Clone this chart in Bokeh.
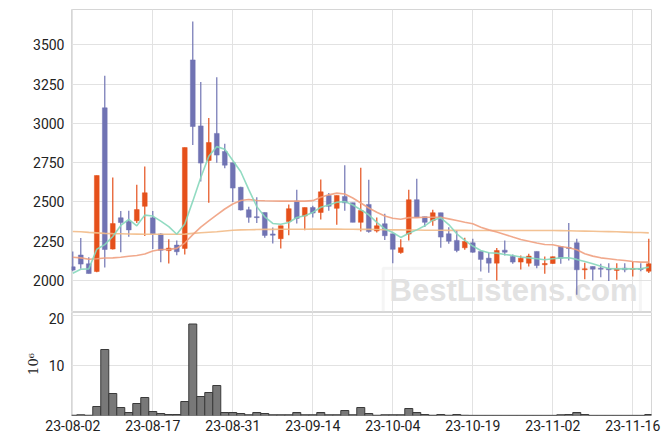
from bokeh.plotting import figure
from bokeh.models import FixedTicker, Range1d, Label, BoxAnnotation, ColumnDataSource
from bokeh.layouts import column
from bokeh.embed import file_html
from bokeh.resources import INLINE

# ---- data ----
dates = [
    "23-08-02", "23-08-03", "23-08-04", "23-08-07", "23-08-08", "23-08-09", "23-08-10",
    "23-08-11", "23-08-14", "23-08-16", "23-08-17", "23-08-18", "23-08-21", "23-08-22",
    "23-08-23", "23-08-24", "23-08-25", "23-08-28", "23-08-29", "23-08-30", "23-08-31",
    "23-09-01", "23-09-04", "23-09-05", "23-09-06", "23-09-07", "23-09-08", "23-09-11",
    "23-09-12", "23-09-13", "23-09-14", "23-09-15", "23-09-18", "23-09-19", "23-09-20",
    "23-09-21", "23-09-22", "23-09-25", "23-09-26", "23-09-27", "23-10-04", "23-10-05",
    "23-10-06", "23-10-10", "23-10-11", "23-10-12", "23-10-13", "23-10-16", "23-10-17",
    "23-10-18", "23-10-19", "23-10-20", "23-10-23", "23-10-24", "23-10-25", "23-10-26",
    "23-10-27", "23-10-30", "23-10-31", "23-11-01", "23-11-02", "23-11-03", "23-11-06",
    "23-11-07", "23-11-08", "23-11-09", "23-11-10", "23-11-13", "23-11-14", "23-11-15",
    "23-11-16", "23-11-17", "23-11-20",
]
opens = [2087, 2162, 2106, 2057, 3099, 2200, 2399, 2375, 2380, 2472,
         2399, 2296, 2190, 2225, 2204, 3404, 2984, 2764, 2936, 2821,
         2750, 2593, 2450, 2406, 2432, 2296, 2266, 2375, 2506, 2410,
         2464, 2433, 2541, 2459, 2534, 2495, 2370, 2484, 2315, 2361,
         2297, 2178, 2295, 2514, 2406, 2381, 2431, 2297, 2255, 2208,
         2240, 2185, 2142, 2110, 2193, 2153, 2117, 2110, 2185, 2100,
         2108, 2216, 2210, 2240, 2068, 2089, 2078, 2076, 2064, 2078,
         2070, 2076, 2059]
highs = [2185, 2270, 2147, 2668, 3303, 2655, 2442, 2444, 2609, 2725,
         2442, 2300, 2262, 2255, 2846, 3648, 3264, 3035, 3294, 2870,
         2750, 2596, 2470, 2530, 2432, 2337, 2348, 2483, 2577, 2464,
         2476, 2642, 2556, 2541, 2733, 2495, 2718, 2641, 2401, 2424,
         2297, 2262, 2577, 2648, 2406, 2450, 2431, 2339, 2318, 2272,
         2265, 2185, 2176, 2206, 2255, 2166, 2159, 2170, 2185, 2153,
         2153, 2216, 2365, 2265, 2112, 2089, 2106, 2110, 2110, 2110,
         2117, 2110, 2265]
lows = [2058, 2075, 2044, 2052, 2082, 2197, 2180, 2278, 2365, 2283,
        2200, 2116, 2108, 2160, 2166, 2863, 2630, 2494, 2749, 2715,
        2500, 2445, 2368, 2365, 2272, 2236, 2204, 2288, 2363, 2320,
        2401, 2388, 2444, 2354, 2444, 2370, 2312, 2304, 2305, 2258,
        2110, 2170, 2255, 2402, 2340, 2348, 2208, 2233, 2180, 2195,
        2176, 2057, 2049, 2000, 2159, 2106, 2070, 2089, 2078, 2042,
        2106, 2106, 2127, 1909, 2008, 2000, 2021, 1996, 2004, 2053,
        2025, 2059, 2047]
closes = [2066, 2104, 2044, 2668, 2197, 2362, 2369, 2322, 2451, 2558,
          2297, 2192, 2206, 2183, 2846, 2980, 2747, 2878, 2798, 2734,
          2588, 2449, 2402, 2400, 2287, 2288, 2348, 2457, 2395, 2464,
          2429, 2564, 2472, 2541, 2494, 2370, 2445, 2312, 2348, 2285,
          2198, 2209, 2514, 2402, 2370, 2431, 2276, 2250, 2191, 2248,
          2180, 2134, 2110, 2191, 2180, 2117, 2142, 2155, 2095, 2108,
          2151, 2142, 2204, 2068, 2074, 2072, 2072, 2068, 2074, 2068,
          2076, 2070, 2106]
volumes = [0.05, 0.15, 0.05, 1.8, 13.2, 4.4, 1.6, 0.6, 2.4, 3.6,
           0.8, 0.4, 0.2, 0.2, 2.8, 18.3, 3.8, 4.6, 6.0, 0.6,
           0.6, 0.4, 0.15, 0.6, 0.4, 0.15, 0.15, 0.15, 0.6, 0.15,
           0.15, 0.6, 0.15, 0.15, 1.0, 0.15, 1.6, 0.4, 0.05, 0.15,
           0.15, 0.15, 1.4, 0.6, 0.2, 0.05, 0.2, 0.05, 0.2, 0.05,
           0.03, 0.03, 0.03, 0.03, 0.03, 0.03, 0.03, 0.03, 0.03, 0.03,
           0.03, 0.15, 0.2, 0.6, 0.2, 0.03, 0.03, 0.03, 0.03, 0.03,
           0.03, 0.03, 0.2]
ma5 = [2046, 2071, 2074, 2199, 2228, 2280, 2350, 2389, 2348, 2416,
       2410, 2378, 2343, 2294, 2360, 2505, 2655, 2790, 2852, 2836,
       2764, 2692, 2578, 2470, 2405, 2363, 2358, 2369, 2401, 2412,
       2433, 2466, 2480, 2498, 2502, 2480, 2450, 2418, 2370, 2328,
       2305, 2274, 2300, 2322, 2348, 2384, 2399, 2356, 2297, 2255,
       2219, 2191, 2176, 2174, 2165, 2159, 2149, 2144, 2138, 2132,
       2138, 2144, 2144, 2134, 2121, 2106, 2091, 2076, 2074, 2074,
       2074, 2074, 2085]
ma20 = [2148, 2144, 2135, 2138, 2143, 2144, 2148, 2154, 2159, 2168,
        2188, 2197, 2198, 2204, 2238, 2292, 2340, 2380, 2418, 2455,
        2487, 2509, 2515, 2509, 2507, 2506, 2505, 2505, 2505, 2505,
        2508, 2530, 2545, 2556, 2550, 2525, 2493, 2461, 2434, 2410,
        2396, 2390, 2400, 2400, 2402, 2402, 2402, 2392, 2382, 2371,
        2361, 2339, 2322, 2308, 2293, 2276, 2261, 2250, 2238, 2229,
        2227, 2216, 2208, 2195, 2170, 2155, 2144, 2138, 2132, 2127,
        2121, 2117, 2117]
ma60 = [2312, 2310, 2306, 2303, 2300, 2298, 2297, 2296, 2295, 2294,
        2294, 2294, 2294, 2294, 2295, 2300, 2304, 2307, 2310, 2315,
        2320, 2322, 2323, 2324, 2325, 2325, 2326, 2326, 2326, 2326,
        2327, 2327, 2327, 2327, 2326, 2326, 2325, 2325, 2324, 2323,
        2322, 2322, 2321, 2321, 2320, 2320, 2320, 2319, 2319, 2319,
        2318, 2318, 2318, 2318, 2318, 2318, 2318, 2318, 2318, 2318,
        2318, 2317, 2316, 2315, 2314, 2313, 2312, 2311, 2310, 2308,
        2306, 2305, 2303]
price_ticks = [2000, 2250, 2500, 2750, 3000, 3250, 3500]
volume_ticks = [10, 20]
tick_every = 10

UP = "#e5501b"
DOWN = "#7073b3"
FONT = "Roboto"
TXT = "#222222"
GRID = "#e2e2e2"

idx = list(range(len(dates)))
colors = [UP if c >= o else DOWN for o, c in zip(opens, closes)]
src = ColumnDataSource(dict(
    x=idx, open=opens, high=highs, low=lows, close=closes,
    top=[max(o, c) for o, c in zip(opens, closes)],
    bottom=[min(o, c) for o, c in zip(opens, closes)],
    color=colors, vol=volumes, ma5=ma5, ma20=ma20, ma60=ma60,
))
xticks = idx[::tick_every]
xr = Range1d(-0.16, 72.34)

# ---- price panel ----
p = figure(frame_width=580, frame_height=303, x_range=xr,
           y_range=Range1d(1796, 3725), output_backend="svg",
           toolbar_location=None, x_axis_location=None,
           min_border_left=71, min_border_right=19, min_border_top=9,
           min_border_bottom=0, outline_line_color="#d6d6d6")
p.xgrid.ticker = FixedTicker(ticks=xticks)
p.xgrid.grid_line_color = GRID
p.ygrid.grid_line_color = GRID
p.yaxis.ticker = FixedTicker(ticks=price_ticks)
p.yaxis.axis_line_color = None
p.yaxis.major_tick_line_color = None
p.yaxis.minor_tick_line_color = None
p.yaxis.major_tick_out = 0
p.yaxis.major_tick_in = 0
p.yaxis.major_label_standoff = 7
p.yaxis.major_label_text_font = FONT
p.yaxis.major_label_text_font_size = "14px"
p.yaxis.major_label_text_color = TXT

# watermark
p.add_layout(BoxAnnotation(left=38.8, right=70.96, bottom=1780, top=2078,
                           fill_alpha=0, line_color="#dedede", line_width=3,
                           level="underlay"))
p.add_layout(Label(x=55.1, y=1938, text="BestListens.com", text_align="center",
                   text_baseline="middle", text_font="Liberation Sans",
                   text_font_style="bold", text_font_size="31px",
                   text_color="#e2e2e2", level="underlay"))

p.segment("x", "high", "x", "low", source=src, color="color", line_width=1.2)
p.vbar(x="x", width=0.6, top="top", bottom="bottom", source=src,
       fill_color="color", line_color="color", line_width=0.5)
p.line("x", "ma60", source=src, line_color="#f2bb88", line_width=1.6, line_alpha=0.9)
p.line("x", "ma20", source=src, line_color="#f0a080", line_width=1.6, line_alpha=0.9)
p.line("x", "ma5", source=src, line_color="#86d7bb", line_width=1.6, line_alpha=0.9)

# ---- volume panel ----
v = figure(frame_width=580, frame_height=103, x_range=xr,
           y_range=Range1d(0, 20.6), output_backend="svg",
           toolbar_location=None, min_border_left=71, min_border_right=19,
           min_border_top=0, outline_line_color="#d6d6d6")
v.vbar(x="x", width=1.0, top="vol", bottom=0, source=src,
       fill_color="#787878", line_color="#3a3a3a", line_width=1)
v.xgrid.grid_line_color = GRID
v.ygrid.grid_line_color = GRID
v.xaxis.ticker = FixedTicker(ticks=xticks)
v.xaxis.major_label_overrides = {i: dates[i] for i in xticks}
v.yaxis.ticker = FixedTicker(ticks=volume_ticks)
v.yaxis.axis_label = "10\u2076"
v.yaxis.axis_label_text_font = "DejaVu Serif"
v.yaxis.axis_label_text_font_style = "normal"
v.yaxis.axis_label_text_font_size = "13px"
v.yaxis.axis_label_text_color = TXT
v.yaxis.axis_label_standoff = 5
for ax in (v.xaxis, v.yaxis):
    ax.axis_line_color = None
    ax.major_tick_line_color = None
    ax.minor_tick_line_color = None
    ax.major_tick_out = 0
    ax.major_tick_in = 0
    ax.major_label_text_font = FONT
    ax.major_label_text_font_size = "14px"
    ax.major_label_text_color = TXT
v.yaxis.major_label_standoff = 7
v.xaxis.major_label_standoff = 4

layout = column(p, v, spacing=0)
open("out.html", "w").write(file_html(layout, INLINE))
